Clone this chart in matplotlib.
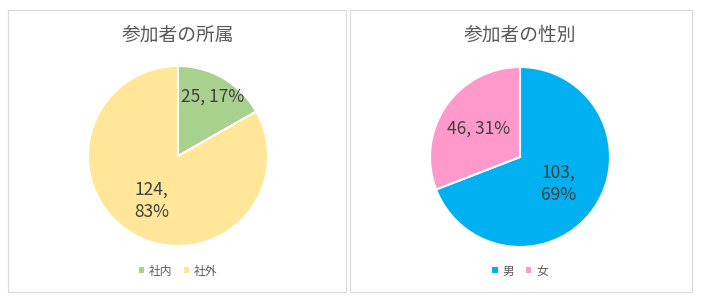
import matplotlib
matplotlib.use("Agg")
import matplotlib.pyplot as plt
from matplotlib.patches import Rectangle, Patch
import numpy as np

# data
titles = ["参加者の所属", "参加者の性別"]
labels_left = ["社内", "社外"]
values_left = [25, 124]
labels_right = ["男", "女"]
values_right = [103, 46]

colors_left = ["#A9D18E", "#FFE699"]
colors_right = ["#00B0F0", "#FF99CC"]
# radial position of each data label and whether it wraps onto two lines
label_r_left = [0.76, 0.58]
wrap_left = [False, True]
label_r_right = [0.52, 0.56]
wrap_right = [True, False]

text_col = "#404040"
jp = ["Noto Sans CJK JP", "DejaVu Sans"]

W, H = 701, 301
fig = plt.figure(figsize=(W / 100, H / 100), dpi=100)
fig.patch.set_facecolor("white")


def px(x, y):
    return x / W, 1 - y / H


def panel(x0, x1, y0, y1):
    fig.patches.append(Rectangle((x0 / W, 1 - y1 / H), (x1 - x0) / W, (y1 - y0) / H,
                                 transform=fig.transFigure, fill=False,
                                 edgecolor="#D9D9D9", linewidth=0.8))


def draw_pie(cx, cy, r, vals, cols, labs, rads, wraps, title, legend_y):
    ax = fig.add_axes([(cx - r) / W, (H - cy - r) / H, 2 * r / W, 2 * r / H])
    wedges, _ = ax.pie(vals, colors=cols, startangle=90, counterclock=False,
                       wedgeprops=dict(edgecolor="white", linewidth=1.5))
    ax.set_xlim(-1, 1)
    ax.set_ylim(-1, 1)
    ax.set_aspect("equal")
    ax.axis("off")
    total = sum(vals)
    for w, v, rr, wrap in zip(wedges, vals, rads, wraps):
        ang = np.deg2rad((w.theta1 + w.theta2) / 2)
        pct = round(v / total * 100)
        sep = ",\n" if wrap else ", "
        ax.text(rr * np.cos(ang), rr * np.sin(ang), f"{v}{sep}{pct}%", ha="center",
                va="center", fontsize=12.5, color=text_col, family=jp, linespacing=1.3)
    fig.text(*px(cx, 35), title, ha="center", va="center", fontsize=13.5,
             color="#595959", family=jp)
    handles = [Patch(facecolor=c, edgecolor="none") for c in cols]
    fig.legend(handles, labs, loc="center", bbox_to_anchor=px(cx, legend_y), ncol=2,
               frameon=False, handlelength=0.45, handleheight=0.45, handletextpad=0.4,
               columnspacing=1.0, prop={"family": jp, "size": 8.5}, labelcolor="#595959")


panel(8, 346, 10, 292)
panel(350, 692, 10, 292)

draw_pie(178, 156, 90, values_left, colors_left, labels_left, label_r_left, wrap_left,
         titles[0], 271)
draw_pie(520, 157, 90, values_right, colors_right, labels_right, label_r_right, wrap_right,
         titles[1], 271)

fig.savefig("out.png", dpi=100, facecolor="white")
